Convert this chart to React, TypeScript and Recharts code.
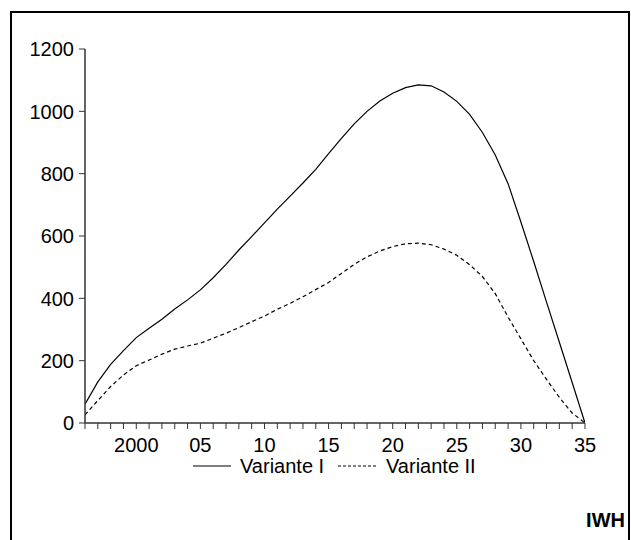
import React from 'react';
import { LineChart, Line, XAxis, YAxis } from 'recharts';

const years = [
  1996, 1997, 1998, 1999, 2000, 2001, 2002, 2003, 2004, 2005,
  2006, 2007, 2008, 2009, 2010, 2011, 2012, 2013, 2014, 2015,
  2016, 2017, 2018, 2019, 2020, 2021, 2022, 2023, 2024, 2025,
  2026, 2027, 2028, 2029, 2030, 2031, 2032, 2033, 2034, 2035,
];

const varianteI = [
  60, 132, 188, 232, 274, 304, 333, 366, 395, 427,
  466, 509, 555, 598, 642, 686, 728, 770, 814, 864,
  913, 960, 1000, 1033, 1058, 1076, 1085, 1082, 1062, 1032,
  990, 932, 860, 768, 645, 518, 388, 259, 130, 0,
];

const varianteII = [
  26, 72, 117, 154, 184, 202, 221, 237, 247, 256,
  272, 288, 306, 325, 343, 365, 384, 405, 428, 451,
  480, 509, 533, 552, 566, 575, 577, 572, 558, 538,
  508, 470, 415, 340, 270, 200, 140, 82, 32, 0,
];

const seriesNames = ['Variante I', 'Variante II'];
const yTicks = [0, 200, 400, 600, 800, 1000, 1200];
const xLabelYears = [2000, 2005, 2010, 2015, 2020, 2025, 2030, 2035];
const xLabels = ['2000', '05', '10', '15', '20', '25', '30', '35'];

const data = years.map((y, i) => ({ year: y, v1: varianteI[i], v2: varianteII[i] }));

const FONT = '"Liberation Sans", Arial, sans-serif';

const XTick = (props: any) => {
  const { x, y, payload } = props;
  const idx = xLabelYears.indexOf(payload.value);
  if (idx < 0) return null;
  return (
    <text x={x} y={y} dy={21} textAnchor="middle" fontFamily={FONT} fontSize={20} fill="#000">
      {xLabels[idx]}
    </text>
  );
};

const YTick = (props: any) => {
  const { x, y, payload } = props;
  return (
    <text x={x - 3} y={y} dy="0.36em" textAnchor="end" fontFamily={FONT} fontSize={20} fill="#000">
      {payload.value}
    </text>
  );
};

export default function App() {
  return (
    <div style={{ position: 'absolute', left: 0, top: 0, width: 631, height: 540, overflow: 'hidden', background: '#fff' }}>
      <div
        style={{
          position: 'absolute',
          left: 10,
          top: 11,
          width: 620,
          height: 560,
          border: '2px solid #000',
          boxSizing: 'border-box',
        }}
      />
      <div style={{ position: 'absolute', left: 0, top: 0 }}>
        <LineChart width={631} height={540} data={data} margin={{ top: 49, right: 46, bottom: 87, left: 25 }}>
          <XAxis
            dataKey="year"
            type="number"
            domain={[1996, 2035]}
            ticks={years}
            interval={0}
            tickSize={6}
            tick={<XTick />}
            height={30}
            axisLine={{ stroke: '#333', strokeWidth: 1.5 }}
            tickLine={{ stroke: '#333', strokeWidth: 1 }}
            allowDataOverflow
          />
          <XAxis
            xAxisId="top"
            orientation="top"
            dataKey="year"
            type="number"
            domain={[1996, 2035]}
            tick={false}
            tickLine={false}
            height={0}
            axisLine={{ stroke: '#000', strokeWidth: 1.5 }}
          />
          <YAxis
            type="number"
            domain={[0, 1200]}
            ticks={yTicks}
            interval={0}
            tickSize={6}
            tick={<YTick />}
            width={60}
            axisLine={{ stroke: '#333', strokeWidth: 1.5 }}
            tickLine={{ stroke: '#333', strokeWidth: 1 }}
          />
          <YAxis
            yAxisId="right"
            orientation="right"
            type="number"
            domain={[0, 1200]}
            tick={false}
            tickLine={false}
            width={0}
            axisLine={{ stroke: '#000', strokeWidth: 1.5 }}
          />
          <Line
            type="linear"
            dataKey="v1"
            name={seriesNames[0]}
            stroke="#000"
            strokeWidth={1.2}
            dot={false}
            isAnimationActive={false}
          />
          <Line
            type="linear"
            dataKey="v2"
            name={seriesNames[1]}
            stroke="#000"
            strokeWidth={1.2}
            strokeDasharray="4 3"
            dot={false}
            isAnimationActive={false}
          />
        </LineChart>
      </div>
      <svg width={631} height={540} style={{ position: 'absolute', left: 0, top: 0 }}>
        <line x1={193} x2={231} y1={466} y2={466} stroke="#000" strokeWidth={1.2} />
        <text x={240} y={473} fontFamily={FONT} fontSize={20} fill="#000">{seriesNames[0]}</text>
        <line x1={338} x2={377} y1={466} y2={466} stroke="#000" strokeWidth={1.2} strokeDasharray="3 2" />
        <text x={386} y={473} fontFamily={FONT} fontSize={20} fill="#000">{seriesNames[1]}</text>
        <text x={625} y={527} textAnchor="end" fontFamily={FONT} fontSize={20} fontWeight="bold" fill="#000">IWH</text>
      </svg>
    </div>
  );
}
